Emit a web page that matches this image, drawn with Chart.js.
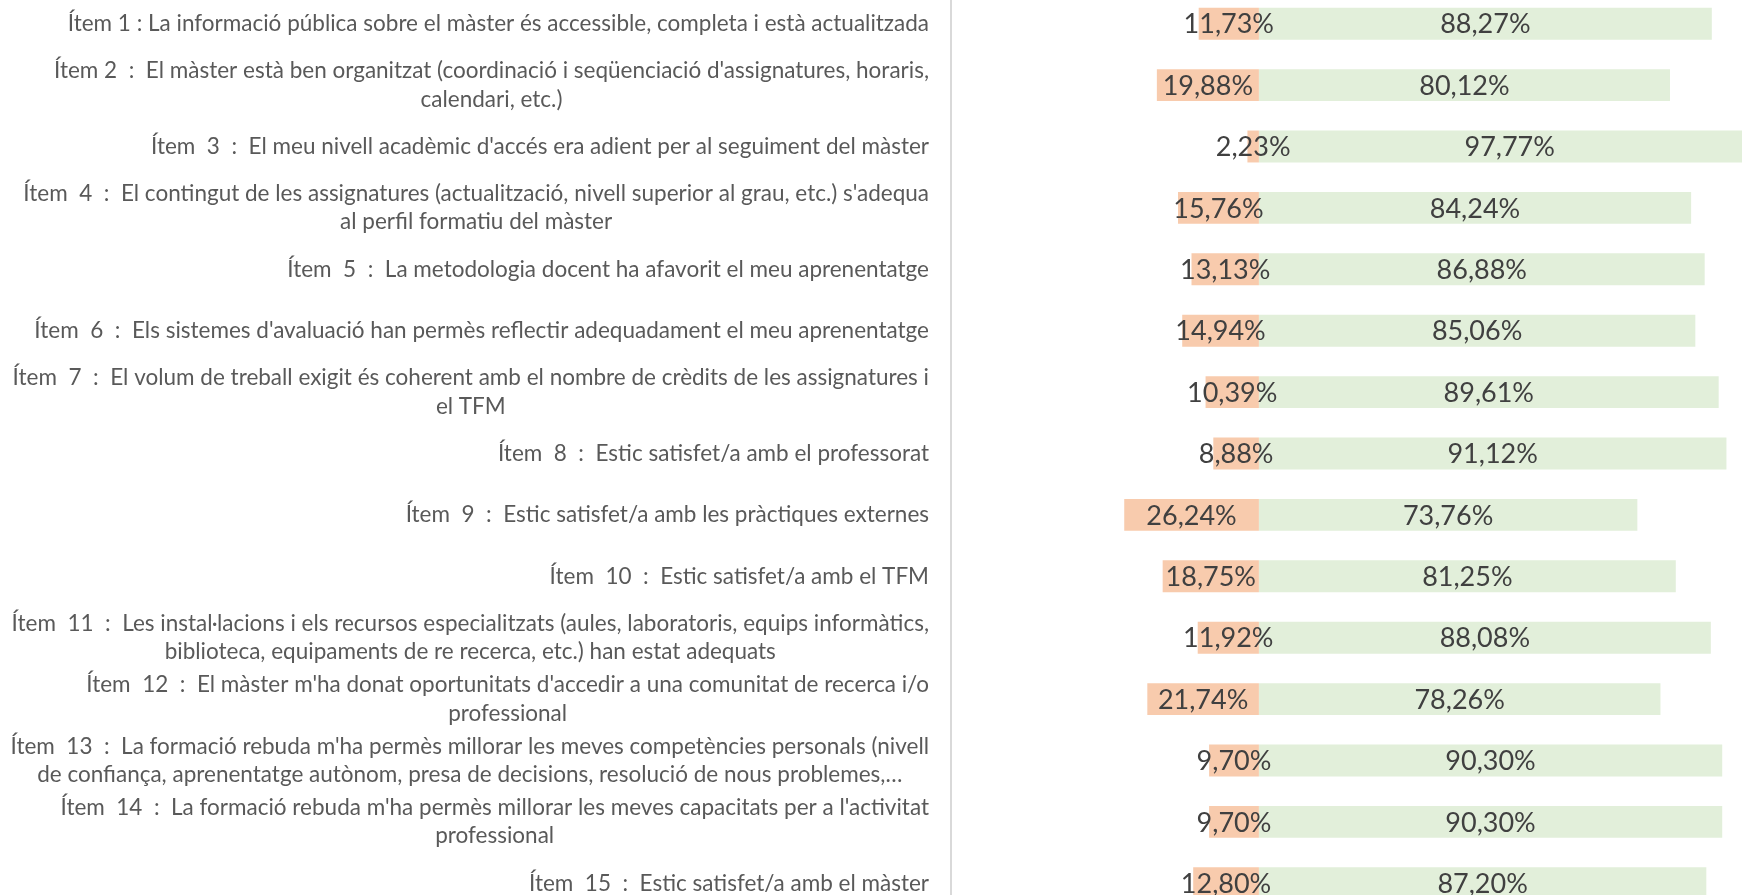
<!DOCTYPE html>
<html><head><meta charset="utf-8">
<script src="https://cdn.jsdelivr.net/npm/chart.js@4/dist/chart.umd.min.js"></script>
<style>
html,body{margin:0;padding:0;width:1742px;height:895px;overflow:hidden;background:#fff;}
#wrap{position:absolute;left:0;top:-7px;width:1772px;height:921px;}
</style></head><body>
<div id="wrap"><canvas id="c"></canvas></div>
<script>
const categories = [
  ["Ítem 1 : La informació pública sobre el màster és accessible, completa i està actualitzada"],
  ["Ítem 2  :  El màster està ben organitzat (coordinació i seqüenciació d'assignatures, horaris,", "calendari, etc.)"],
  ["Ítem  3  :  El meu nivell acadèmic d'accés era adient per al seguiment del màster"],
  ["Ítem  4  :  El contingut de les assignatures (actualització, nivell superior al grau, etc.) s'adequa", "al perfil formatiu del màster"],
  ["Ítem  5  :  La metodologia docent ha afavorit el meu aprenentatge"],
  ["Ítem  6  :  Els sistemes d'avaluació han permès reflectir adequadament el meu aprenentatge"],
  ["Ítem  7  :  El volum de treball exigit és coherent amb el nombre de crèdits de les assignatures i", "el TFM"],
  ["Ítem  8  :  Estic satisfet/a amb el professorat"],
  ["Ítem  9  :  Estic satisfet/a amb les pràctiques externes"],
  ["Ítem  10  :  Estic satisfet/a amb el TFM"],
  ["Ítem  11  :  Les instal·lacions i els recursos especialitzats (aules, laboratoris, equips informàtics,", "biblioteca, equipaments de re recerca, etc.) han estat adequats"],
  ["Ítem  12  :  El màster m'ha donat oportunitats d'accedir a una comunitat de recerca i/o", "professional"],
  ["Ítem  13  :  La formació rebuda m'ha permès millorar les meves competències personals (nivell", "de confiança, aprenentatge autònom, presa de decisions, resolució de nous problemes,…"],
  ["Ítem  14  :  La formació rebuda m'ha permès millorar les meves capacitats per a l'activitat", "professional"],
  ["Ítem  15  :  Estic satisfet/a amb el màster"]
];
const noSatisfet = [11.73, 19.88, 2.23, 15.76, 13.13, 14.94, 10.39, 8.88, 26.24, 18.75, 11.92, 21.74, 9.70, 9.70, 12.80];
const satisfet   = [88.27, 80.12, 97.77, 84.24, 86.88, 85.06, 89.61, 91.12, 73.76, 81.25, 88.08, 78.26, 90.30, 90.30, 87.20];

const FONT = "Lato, 'Open Sans', sans-serif";
const LABEL_SIZE = 22.5;
const LABEL_RIGHT = 929;
const LINE_H = 28.5;
const VALUE_SIZE = 27;

function fmt(v){ return v.toFixed(2).replace('.', ',') + '%'; }

const labelPlugin = {
  id: 'catLabels',
  afterDraw(chart){
    const ctx = chart.ctx;
    const y = chart.scales.y;
    ctx.save();
    ctx.font = LABEL_SIZE + 'px ' + FONT;
    ctx.fillStyle = '#595959';
    ctx.textAlign = 'center';
    ctx.textBaseline = 'middle';
    categories.forEach((lines, i) => {
      const cy = y.getPixelForValue(i);
      let maxW = 0;
      lines.forEach(l => { maxW = Math.max(maxW, ctx.measureText(l).width); });
      const cx = LABEL_RIGHT - maxW / 2;
      lines.forEach((l, k) => {
        ctx.fillText(l, cx, cy + (k - (lines.length - 1) / 2) * LINE_H);
      });
    });
    ctx.restore();
  }
};

const valuePlugin = {
  id: 'valueLabels',
  afterDatasetsDraw(chart){
    const ctx = chart.ctx;
    ctx.save();
    ctx.font = VALUE_SIZE + 'px ' + FONT;
    ctx.fillStyle = '#404040';
    ctx.textAlign = 'center';
    ctx.textBaseline = 'middle';
    chart.data.datasets.forEach((ds, di) => {
      const meta = chart.getDatasetMeta(di);
      meta.data.forEach((el, i) => {
        const src = di === 0 ? noSatisfet : satisfet;
        ctx.fillText(fmt(src[i]), (el.x + el.base) / 2, el.y + 1);
      });
    });
    ctx.restore();
  }
};

new Chart(document.getElementById('c'), {
  type: 'bar',
  data: {
    labels: categories,
    datasets: [
      { label: 'No satisfet', data: noSatisfet.map(v => -v), backgroundColor: '#F8CBAD', categoryPercentage: 1, barPercentage: 0.52 },
      { label: 'Satisfet', data: satisfet, backgroundColor: '#E2EFDA', categoryPercentage: 1, barPercentage: 0.52 }
    ]
  },
  options: {
    indexAxis: 'y',
    responsive: true,
    maintainAspectRatio: false,
    animation: false,
    layout: { padding: 0 },
    plugins: { legend: { display: false }, tooltip: { enabled: false } },
    scales: {
      x: { display: false, stacked: true, min: -60, max: 100 },
      y: {
        stacked: true,
        grid: { display: false, drawTicks: false },
        ticks: { display: false },
        border: { display: true, color: '#d9d9d9', width: 2 },
        afterFit(s){ s.width = 951; }
      }
    }
  },
  plugins: [labelPlugin, valuePlugin]
});
</script>
</body></html>
